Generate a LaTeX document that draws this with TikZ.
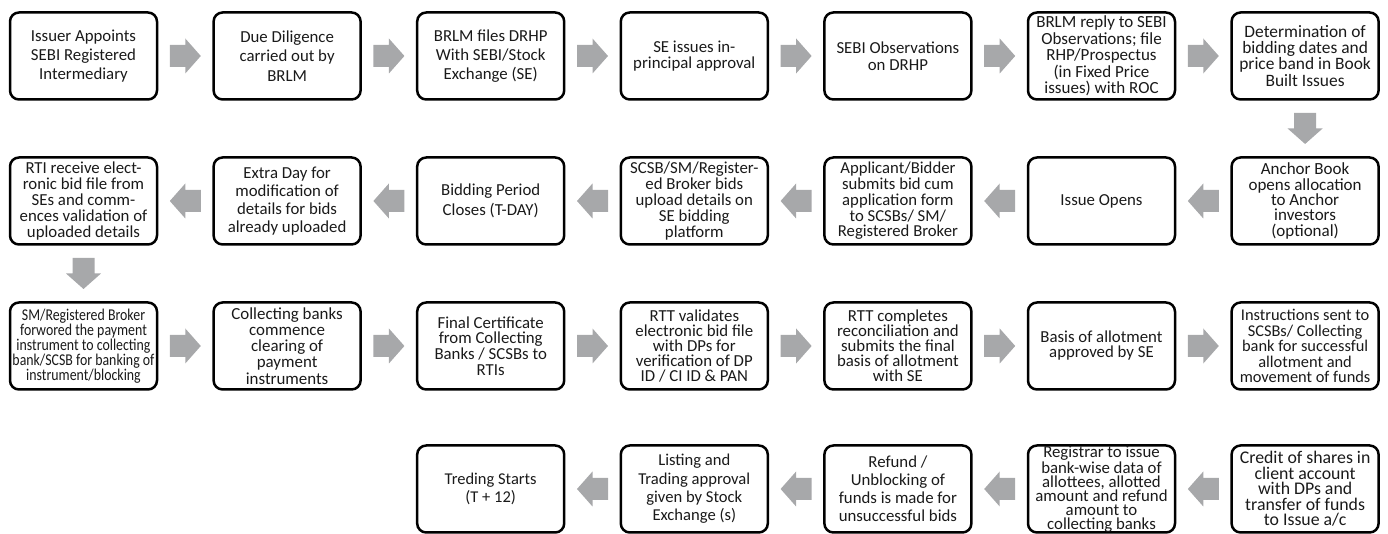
\documentclass[tikz,border=0pt]{standalone}
\usepackage{fontspec}
\setmainfont{Carlito}
\newfontfamily\narrowcarlito[FakeStretch=0.84]{Carlito}
\usetikzlibrary{calc}
\definecolor{arrowgray}{HTML}{A7A8AA}
\definecolor{txt}{HTML}{1A1A1A}
\tikzset{
  stepbox/.style={draw=black, line width=2.5pt, rounded corners=9pt, fill=white,
    minimum width=147pt, minimum height=87pt, inner sep=0pt,
    align=center, text=txt, font=\fontsize{16.8pt}{19pt}\selectfont},
  fs/.style 2 args={font=\fontsize{#1pt}{#2pt}\selectfont},
  narrowbox/.style={stepbox, font=\narrowcarlito\fontsize{16.5pt}{15pt}\selectfont},
  barrow/.pic={\fill[arrowgray] (-15.5,-11) -- (0,-11) -- (0,-17.5) -- (15.5,0) -- (0,17.5) -- (0,11) -- (-15.5,11) -- cycle;}
}
\begin{document}
\begin{tikzpicture}[x=1pt,y=1pt]
\useasboundingbox (0,0) rectangle (1388,534);
% columns and rows
\def\ca{83.5}\def\cb{287.1}\def\cc{490.7}\def\cd{694.3}\def\ce{897.9}\def\cf{1101.5}\def\cg{1305.1}
\def\ra{478}\def\rb{333}\def\rc{188}\def\rd{45}
% row 1
\node[stepbox,fs={16.8}{19.2}] (a1) at (\ca,\ra) {Issuer Appoints\\SEBI Registered\\Intermediary};
\node[stepbox,fs={16.8}{19.2}] (a2) at (\cb,\ra) {Due Diligence\\carried out by\\BRLM};
\node[stepbox,fs={16.8}{19}] (a3) at (\cc,\ra) {BRLM files DRHP\\With SEBI/Stock\\Exchange (SE)};
\node[stepbox,fs={16.8}{16.7}] (a4) at (\cd,\ra) {SE issues in-\\principal approval};
\node[stepbox,fs={16.8}{16.7}] (a5) at (\ce,\ra) {SEBI Observations\\on DRHP};
\node[stepbox,fs={17}{16.4}] (a6) at (\cf,\ra) {BRLM reply to SEBI\\Observations; file\\RHP/Prospectus\\(in Fixed Price\\issues) with ROC};
\node[stepbox,fs={17.4}{16.1}] (a7) at (\cg,\ra) {Determination of\\bidding dates and\\price band in Book\\Built Issues};
% row 2
\node[stepbox,fs={17}{15.4}] (b7) at (\cg,\rb) {Anchor Book\\opens allocation\\to Anchor\\investors\\(optional)};
\node[stepbox] (b6) at (\cf,\rb) {Issue Opens};
\node[stepbox,fs={16.7}{15.8}] (b5) at (\ce,\rb) {Applicant/Bidder\\submits bid cum\\application form\\to SCSBs/ SM/\\Registered Broker};
\node[stepbox,fs={16.8}{15.8}] (b4) at (\cd,\rb) {SCSB/SM/Register-\\ed Broker bids\\upload details on\\SE bidding\\platform};
\node[stepbox,fs={16.8}{20}] (b3) at (\cc,\rb) {Bidding Period\\Closes (T-DAY)};
\node[stepbox,fs={16.8}{17.8}] (b2) at (\cb,\rb) {Extra Day for\\modification of\\details for bids\\already uploaded};
\node[stepbox,fs={16.8}{16.2}] (b1) at (\ca,\rb) {RTI receive elect-\\ronic bid file from\\SEs and comm-\\ences validation of\\uploaded details};
% row 3
\node[narrowbox] (c1) at (\ca,\rc) {SM/Registered Broker\\forwored the payment\\instrument to collecting\\bank/SCSB for banking of\\instrument/blocking};
\node[stepbox,fs={16.9}{16.2}] (c2) at (\cb,\rc) {Collecting banks\\commence\\clearing of\\payment\\instruments};
\node[stepbox,fs={16.8}{15.8}] (c3) at (\cc,\rc) {Final Certificate\\from Collecting\\Banks / SCSBs to\\RTIs};
\node[stepbox,fs={16.8}{15}] (c4) at (\cd,\rc) {RTT validates\\electronic bid file\\with DPs for\\verification of DP\\ID / CI ID \& PAN};
\node[stepbox,fs={16.8}{15}] (c5) at (\ce,\rc) {RTT completes\\reconciliation and\\submits the final\\basis of allotment\\with SE};
\node[stepbox,fs={16.8}{15}] (c6) at (\cf,\rc) {Basis of allotment\\approved by SE};
\node[stepbox,fs={16.4}{15.4}] (c7) at (\cg,\rc) {Instructions sent to\\SCSBs/ Collecting\\bank for successful\\allotment and\\movement of funds};
% row 4
\node[stepbox,fs={17.8}{15.4}] (d7) at (\cg,\rd) {Credit of shares in\\client account\\with DPs and\\transfer of funds\\to Issue a/c};
\node[stepbox,fs={16.8}{14}] (d6) at (\cf,\rd) {Registrar to issue\\bank-wise data of\\allottees, allotted\\amount and refund\\amount to\\collecting banks};
\node[stepbox,fs={16.8}{18}] (d5) at (\ce,\rd) {Refund /\\Unblocking of\\funds is made for\\unsuccessful bids};
\node[stepbox,fs={16.6}{18.3}] (d4) at (\cd,\rd) {Listing and\\Trading approval\\given by Stock\\Exchange (s)};
\node[stepbox,fs={16.5}{18.3}] (d3) at (\cc,\rd) {Treding Starts\\(T + 12)};
% arrows
\foreach \p/\q in {a1/a2,a2/a3,a3/a4,a4/a5,a5/a6,a6/a7,c1/c2,c2/c3,c3/c4,c4/c5,c5/c6,c6/c7}
  \pic at ($(\p.east)!0.5!(\q.west)$) {barrow};
\foreach \p/\q in {b7/b6,b6/b5,b5/b4,b4/b3,b3/b2,b2/b1,d7/d6,d6/d5,d5/d4,d4/d3}
  \pic[rotate=180] at ($(\p.west)!0.5!(\q.east)$) {barrow};
\pic[rotate=-90] at ($(a7.south)!0.5!(b7.north)$) {barrow};
\pic[rotate=-90] at ($(b1.south)!0.5!(c1.north)$) {barrow};
\end{tikzpicture}
\end{document}
